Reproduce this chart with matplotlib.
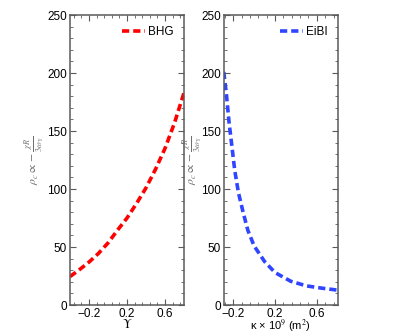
import matplotlib
matplotlib.use('Agg')
import matplotlib.pyplot as plt
from matplotlib.ticker import FixedLocator, AutoMinorLocator, MultipleLocator

plt.rcParams['font.family'] = ['Liberation Sans', 'DejaVu Sans']
plt.rcParams['mathtext.fontset'] = 'stix'

# BHG panel data
bhg_x = [-0.4, -0.3, -0.2, -0.1, 0.0, 0.1, 0.2, 0.3, 0.4, 0.5, 0.6, 0.7, 0.8]
bhg_y = [24.5, 30.5, 37, 44.5, 53.5, 64.5, 75, 87.5, 101, 117, 135, 157, 183]

# EiBI panel data
eibi_x = [-0.29, -0.265, -0.24, -0.215, -0.185, -0.15, -0.105, -0.06, 0.0,
          0.1, 0.2, 0.35, 0.5, 0.65, 0.8]
eibi_y = [201, 182, 158, 139, 116, 97, 80, 64.5, 51,
          37.5, 28, 20.5, 16.5, 14.5, 12.8]

xticks = [-0.2, 0.2, 0.6]
ylabel = r'$\rho_c \propto -\frac{\chi R}{3\omega_\Upsilon}$'
fontsize = 8.5
spine_col = '#5a5a5a'


def style(ax, xlim):
    ax.set_xlim(*xlim)
    ax.set_ylim(0, 250)
    ax.xaxis.set_major_locator(FixedLocator(xticks))
    ax.xaxis.set_minor_locator(AutoMinorLocator(5))
    ax.yaxis.set_major_locator(MultipleLocator(50))
    ax.yaxis.set_minor_locator(MultipleLocator(10))
    ax.tick_params(which='both', direction='in', top=True, right=True,
                   color=spine_col, labelsize=fontsize, pad=2)
    ax.tick_params(which='major', length=4, width=0.8)
    ax.tick_params(which='minor', length=2, width=0.6)
    ax.set_xticklabels(['\u22120.2', '0.2', '0.6'])
    for s in ax.spines.values():
        s.set_color(spine_col)
        s.set_linewidth(1.1)


fig = plt.figure(figsize=(4.05, 3.34), dpi=100)
ax1 = fig.add_axes([0.1728, 0.0868, 0.2815, 0.868])
ax2 = fig.add_axes([0.5525, 0.0868, 0.2815, 0.868])

ax1.plot(bhg_x, bhg_y, color='#ff0000', linewidth=2.6,
         linestyle=(0, (2, 1.1)), label='BHG')
ax2.plot(eibi_x, eibi_y, color='#2f45ff', linewidth=2.6,
         linestyle=(0, (2, 1.1)), label='EiBI')

style(ax1, (-0.4, 0.8))
style(ax2, (-0.29, 0.8))

ax1.set_xlabel(r'$\Upsilon$', fontsize=9, labelpad=-1)
ax2.set_xlabel(r'κ × 10$^9$ (m$^2$)', fontsize=8, labelpad=-1)

for ax, xc in ((ax1, -0.2), (ax2, -0.165)):
    ax.set_ylabel(ylabel, fontsize=8.5, color='#6e6e6e')
    ax.yaxis.set_label_coords(xc, 0.5)
    ax.legend(loc='upper right', frameon=False, fontsize=fontsize,
              handlelength=2.0, handletextpad=0.2, borderaxespad=0.5)

plt.savefig('out.png', dpi=100)
